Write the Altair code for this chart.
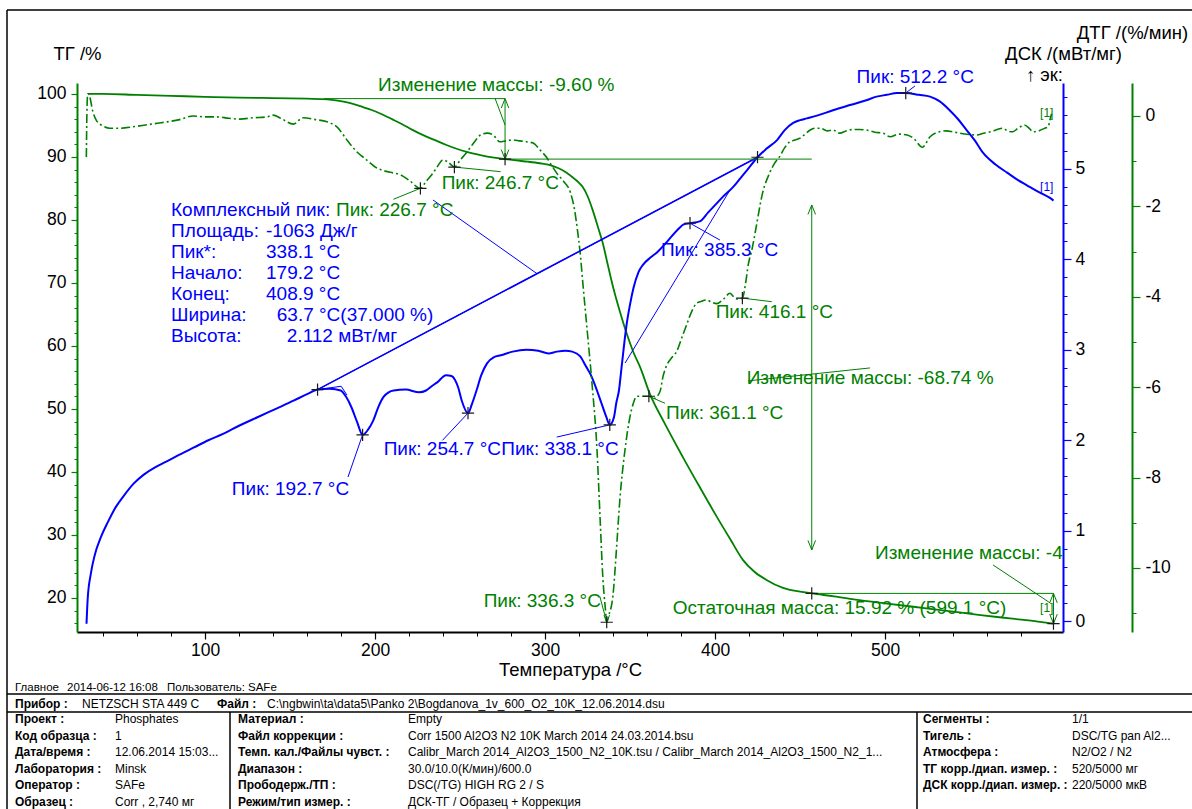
import altair as alt
import pandas as pd

# ---------------------------------------------------------------- curves
# TG, % of initial mass
T_TG = [31.2, 40, 60, 80, 100, 120, 140, 160, 172, 178, 183, 188, 193, 198, 203, 210,
        216, 222, 228, 235, 242, 248, 254, 262, 270, 276.5, 283, 290, 297, 303, 308,
        312.7, 317, 320, 322, 325, 328, 331, 334, 337, 340, 344, 348, 352, 356, 361.8,
        370, 381, 391, 401, 409, 416.5, 423, 430, 440, 450, 456.9, 470, 485, 500,
        516.7, 535, 555, 575, 590, 599.1]
TG = [100.0, 100.0, 99.85, 99.7, 99.55, 99.42, 99.35, 99.25, 99.15, 98.95, 98.7, 98.35,
      97.9, 97.45, 96.9, 96.0, 95.2, 94.3, 93.5, 92.7, 91.9, 91.3, 90.8, 90.3, 89.9, 89.66,
      89.45, 89.25, 89.0, 88.7, 88.2, 87.5, 86.6, 85.9, 85.3, 83.8, 81.6, 79.0, 76.3, 72.8,
      69.4, 65.5, 62.0, 59.0, 56.6, 52.3, 47.9, 42.4, 37.6, 32.9, 29.3, 26.0, 24.2, 22.9,
      21.6, 21.0, 20.72, 20.25, 19.65, 19.15, 18.6, 18.0, 17.3, 16.7, 16.25, 15.92]

# DSC, mW/mg (exo up)
T_DSC = [30.3, 31.0, 32.8, 35.0, 38.8, 43.0, 47.5, 52.0, 58.0, 64.0, 70.6, 76.9, 85.0,
         93.5, 102.0, 110.6, 120.0, 131.5, 142.0, 152.4, 160.0, 166.2, 173.5, 179.8,
         183.0, 186.0, 189.5, 192.7, 196.0, 199.0, 202.0, 205.0, 208.0, 211.0, 218.0,
         226.0, 230.0, 233.5, 236.6, 241.8, 245.0, 247.0, 249.0, 251.0, 254.7, 257.0,
         259.7, 262.5, 265.9, 270.0, 274.0, 281.0, 289.0, 296.0, 302.0, 307.0, 312.0,
         316.0, 320.6, 324.0, 327.0, 330.0, 333.0, 336.0, 338.1, 340.5, 342.0, 343.5,
         345.0, 348.0, 350.0, 352.0, 355.0, 357.6, 362.0, 366.0, 372.0, 377.6, 382.0,
         385.3, 391.0, 396.0, 401.0, 405.0, 410.6, 415.0, 419.0, 425.0, 430.0, 436.5,
         441.0, 446.0, 450.0, 454.0, 460.0, 469.4, 480.0, 489.0, 495.0, 501.0, 507.0,
         512.2, 520.0, 526.5, 532.0, 538.0, 543.0, 548.0, 553.0, 557.6, 565.0, 571.8,
         578.0, 583.5, 590.0, 597.0, 599.1]
DSC = [-0.03, 0.25, 0.52, 0.72, 0.93, 1.10, 1.26, 1.38, 1.52, 1.62, 1.70, 1.76, 1.84,
       1.92, 2.00, 2.07, 2.16, 2.26, 2.35, 2.44, 2.51, 2.56, 2.57, 2.55, 2.48, 2.37,
       2.20, 2.06, 2.12, 2.22, 2.37, 2.48, 2.53, 2.55, 2.56, 2.53, 2.55, 2.60, 2.64,
       2.72, 2.71, 2.67, 2.58, 2.44, 2.30, 2.40, 2.55, 2.72, 2.85, 2.92, 2.94, 2.98,
       3.00, 2.99, 2.96, 2.98, 2.99, 2.98, 2.93, 2.82, 2.72, 2.58, 2.42, 2.26, 2.17,
       2.25, 2.42, 2.55, 2.80, 3.28, 3.50, 3.68, 3.86, 3.94, 4.02, 4.08, 4.20, 4.32,
       4.39, 4.40, 4.42, 4.52, 4.62, 4.70, 4.80, 4.90, 4.99, 5.13, 5.22, 5.32, 5.43,
       5.51, 5.54, 5.56, 5.59, 5.65, 5.71, 5.76, 5.80, 5.82, 5.84, 5.84, 5.82, 5.80,
       5.75, 5.65, 5.55, 5.43, 5.31, 5.18, 5.05, 4.96, 4.88, 4.82, 4.75, 4.68, 4.65]

# DTG, %/min
T_DTG = [30.2, 30.5, 31.0, 32.0, 34, 36, 40, 44, 50, 57.6, 65, 72, 77.6, 85, 93, 100,
         107, 114, 120.6, 128, 136.5, 140, 145, 152, 157.6, 165, 171.8, 177.6, 183.5,
         189, 195, 201, 206, 210.6, 215, 220, 226.7, 230, 234, 237, 240, 243, 246.7,
         250, 254, 258, 262, 266, 269.5, 273.5, 277, 281, 285, 289, 293, 297, 301, 304,
         307, 311, 315, 317.5, 319, 320.6, 322.5, 324.7, 327.6, 330.6, 332.4, 334,
         335.5, 336.3, 337.5, 340, 342, 344, 347, 350, 352, 354, 357.6, 361.1, 364,
         367.6, 369.5, 371.8, 374.5, 377.6, 380.5, 383.5, 386, 389, 392, 395, 398, 401,
         405, 408.8, 411, 413, 416.1, 418, 419.5, 421.7, 424, 428, 432, 435, 438, 441,
         444, 447, 450, 453, 456, 459, 462, 466, 469.4, 473.5, 477, 481, 485, 489, 494,
         498.8, 503, 508, 513, 517, 522, 526.5, 532, 536, 540, 547, 554, 558, 562, 566,
         569.4, 572, 575, 578, 582, 585, 587, 591, 594, 596, 597, 598]
DTG = [-0.91, 0.0, 0.49, 0.45, 0.1, -0.09, -0.22, -0.27, -0.27, -0.24, -0.20, -0.16,
       -0.13, -0.08, 0.0, -0.02, -0.02, -0.05, -0.07, -0.04, -0.02, 0.02, -0.06, -0.18,
       -0.04, -0.08, -0.13, -0.24, -0.53, -0.78, -0.97, -1.15, -1.22, -1.26, -1.30,
       -1.42, -1.60, -1.45, -1.27, -1.10, -0.97, -1.02, -1.13, -0.98, -0.80, -0.60,
       -0.42, -0.38, -0.42, -0.57, -0.55, -0.53, -0.55, -0.57, -0.60, -0.75, -0.92,
       -1.10, -1.27, -1.45, -1.70, -2.1, -2.5, -3.0, -3.8, -4.7, -5.9, -7.4, -8.9,
       -10.2, -10.9, -11.2, -11.05, -10.6, -9.6, -8.5, -7.4, -6.65, -6.35, -6.2, -6.2,
       -6.2, -6.25, -6.1, -5.75, -5.5, -5.35, -5.2, -4.9, -4.6, -4.35, -4.15, -4.1,
       -4.07, -4.12, -4.15, -4.05, -3.92, -4.0, -4.05, -4.03, -3.7, -3.3, -2.96, -2.5,
       -1.7, -1.27, -1.05, -0.9, -0.7, -0.57, -0.53, -0.49, -0.40, -0.31, -0.27, -0.27,
       -0.33, -0.31, -0.38, -0.33, -0.30, -0.30, -0.31, -0.36, -0.38, -0.46, -0.40,
       -0.42, -0.50, -0.69, -0.46, -0.35, -0.33, -0.35, -0.40, -0.42, -0.38, -0.35,
       -0.30, -0.27, -0.33, -0.35, -0.28, -0.20, -0.28, -0.35, -0.32, -0.27, -0.24,
       -0.09, 0.05]

# ---------------------------------------------------------------- evaluation results
DSC_PEAK_T = [192.7, 254.7, 338.1, 385.3, 512.2]
DSC_PEAK_V = [2.06, 2.30, 2.17, 4.40, 5.84]
DSC_BASE_T = [166.2, 425.0]          # complex-peak baseline ends
DSC_BASE_V = [2.56, 5.13]
DTG_PEAK_T = [226.7, 246.7, 336.3, 361.1, 416.1]
DTG_PEAK_V = [-1.60, -1.13, -11.2, -6.2, -4.03]
MASS_STEPS = [-9.60, -68.74, -4.80]
STEP_T = [170.0, 276.5, 456.9, 599.1]
START_LEVEL = 99.26
RESIDUAL = 15.92
RESIDUAL_T = 599.1
COMPLEX_NAMES = ["Площадь:", "Пик*:", "Начало:", "Конец:", "Ширина:", "Высота:"]
COMPLEX_VALUES = ["-1063 Дж/г", "338.1 °C", "179.2 °C", "408.9 °C", "63.7 °C(37.000 %)",
                  "2.112 мВт/мг"]

# axis ticks
X_MAJOR = [100, 200, 300, 400, 500]
X_MINOR = [t for t in range(40, 601, 20) if t % 100]
TG_MAJOR = list(range(20, 101, 10))
TG_MINOR = [v for v in range(16, 101, 2) if v % 10]
DSC_MAJOR = [0, 1, 2, 3, 4, 5]
DSC_MINOR = [round(i * 0.2, 1) for i in range(1, 30) if i % 5]
DTG_MAJOR = [0, -2, -4, -6, -8, -10]
DTG_MINOR = [-1, -3, -5, -7, -9, -11]

# ---------------------------------------------------------------- layout / style
X_DOM = [24.7, 604.7]
TG_DOM = [14.59, 101.74]
DSC_DOM = [-0.121, 5.951]
DTG_DOM = [-11.416, 0.730]
W, H = 986, 549
LEFT, TOP = 77, 83
GREEN = "#008000"
BLUE = "#0000ff"
FONT = "Liberation Sans"
FS = 17.5      # tick labels
AFS = 19       # annotations
TFS = 18.5     # axis titles
TABLE_FS = 12


def sx():
    return alt.Scale(domain=X_DOM, nice=False, zero=False)


def sy(dom):
    return alt.Scale(domain=dom, nice=False, zero=False)


def xq(field="t", axis=None):
    return alt.X(f"{field}:Q", scale=sx(), axis=axis)


def yq(field, dom, axis=None):
    return alt.Y(f"{field}:Q", scale=sy(dom), axis=axis)


label_style = dict(labelFont=FONT, labelFontSize=FS, labelColor="black", grid=False,
                   titleFont=FONT, titleFontSize=TFS, titleFontWeight="normal",
                   titleColor="black")
minor_style = dict(labels=False, domain=False, grid=False, title=None, tickWidth=1)

x_major = alt.Axis(orient="bottom", values=X_MAJOR, labelExpr="datum.value + ''",
                   tickSize=7, tickWidth=1.2, tickColor="black", domainColor="black",
                   domainWidth=2, labelPadding=2, title="Температура /°C",
                   titleY=37, titleBaseline="middle", **label_style)
x_minor = alt.Axis(orient="bottom", values=X_MINOR, tickSize=4, tickColor="black",
                   **minor_style)
tg_major = alt.Axis(orient="left", values=TG_MAJOR, labelExpr="datum.value + ''",
                    tickSize=6, tickWidth=1.2, tickColor=GREEN, domainColor=GREEN,
                    domainWidth=2, labelPadding=5, title="ТГ /%", titleAngle=0,
                    titleX=0, titleY=-30, titleAlign="center", titleBaseline="middle",
                    **label_style)
tg_minor = alt.Axis(orient="left", values=TG_MINOR, tickSize=3, tickColor=GREEN,
                    **minor_style)
dsc_major = alt.Axis(orient="right", values=DSC_MAJOR, labelExpr="datum.value + ''",
                     tickSize=8, tickWidth=1.2, tickColor=BLUE, domainColor=BLUE,
                     domainWidth=2, labelPadding=4, title="ДСК /(мВт/мг)", titleAngle=0,
                     titleX=0, titleY=-30, titleAlign="center", titleBaseline="middle",
                     **label_style)
dsc_minor = alt.Axis(orient="right", values=DSC_MINOR, tickSize=4, tickColor=BLUE,
                     **minor_style)
dtg_major = alt.Axis(orient="right", offset=69, values=DTG_MAJOR,
                     labelExpr="datum.value + ''", tickSize=8, tickWidth=1.2,
                     tickColor=GREEN, domainColor=GREEN, domainWidth=2, labelPadding=5,
                     title="ДТГ /(%/мин)", titleAngle=0, titleX=0, titleY=-51,
                     titleAlign="center", titleBaseline="middle", **label_style)
dtg_minor = alt.Axis(orient="right", offset=69, values=DTG_MINOR, tickSize=4,
                     tickColor=GREEN, **minor_style)

tg_df = pd.DataFrame({"t": T_TG, "v": TG})
dsc_df = pd.DataFrame({"t": T_DSC, "v": DSC})
dtg_df = pd.DataFrame({"t": T_DTG, "v": DTG})

layers = []

# curves with their axes
layers.append(alt.Chart(tg_df).mark_line(color=GREEN, strokeWidth=1.8, interpolate="monotone")
              .encode(x=xq(axis=x_major), y=yq("v", TG_DOM, tg_major)))
layers.append(alt.Chart(tg_df).mark_line(opacity=0)
              .encode(x=xq(axis=x_minor), y=yq("v", TG_DOM, tg_minor)))
layers.append(alt.Chart(dsc_df).mark_line(color=BLUE, strokeWidth=2, interpolate="monotone")
              .encode(x=xq(), y=yq("v", DSC_DOM, dsc_major)))
layers.append(alt.Chart(dsc_df).mark_line(opacity=0)
              .encode(x=xq(), y=yq("v", DSC_DOM, dsc_minor)))
layers.append(alt.Chart(dtg_df).mark_line(color=GREEN, strokeWidth=1.6, strokeDash=[9, 3, 2, 3],
                                          interpolate="monotone")
              .encode(x=xq(), y=yq("v", DTG_DOM, dtg_major)))
layers.append(alt.Chart(dtg_df).mark_line(opacity=0)
              .encode(x=xq(), y=yq("v", DTG_DOM, dtg_minor)))


def segs(rows):
    return pd.DataFrame(rows, columns=["t1", "v1", "t2", "v2"])


def rule_layer(df, dom, color, width=1.0):
    return alt.Chart(df).mark_rule(color=color, strokeWidth=width).encode(
        x=xq("t1"), x2="t2:Q", y=yq("v1", dom), y2="v2:Q")


# DSC evaluation lines: label leaders, complex-peak baseline and tangents
dsc_anchor = [(184.1, 1.593), (239.7, 1.999), (306.9, 2.035), (402.9, 4.214), (517.6, 5.918)]
dsc_lines = [(a[0], a[1], t, v) for a, t, v in zip(dsc_anchor, DSC_PEAK_T, DSC_PEAK_V)]
dsc_lines += [(DSC_BASE_T[0], DSC_BASE_V[0], DSC_BASE_T[1], DSC_BASE_V[1]),
              (234.1, 4.657, 295.3, 3.842),
              (347.1, 2.854, 408.8, 4.767),
              (DSC_BASE_T[0], DSC_BASE_V[0], 180.1, 2.597),
              (180.1, 2.597, 183.5, 2.50)]
layers.append(rule_layer(segs(dsc_lines), DSC_DOM, BLUE))
layers.append(rule_layer(segs(dsc_lines[5:6]), DSC_DOM, BLUE, 1.6))

# DTG label leaders
dtg_anchor = [(210.8, -1.843), (273.9, -1.232), (332.3, -10.635), (370.6, -6.356),
              (433.4, -4.108)]
dtg_lines = [(a[0], a[1], t, v) for a, t, v in zip(dtg_anchor, DTG_PEAK_T, DTG_PEAK_V)]
layers.append(rule_layer(segs(dtg_lines), DTG_DOM, GREEN))

# TG mass-change levels and arrows
levels = [START_LEVEL, START_LEVEL + MASS_STEPS[0], RESIDUAL - MASS_STEPS[2], RESIDUAL]
tg_lines = [(STEP_T[0], levels[0], STEP_T[1], levels[0]),
            (STEP_T[1], levels[1], STEP_T[2], levels[1]),
            (STEP_T[2], levels[2], STEP_T[3], levels[2]),
            (STEP_T[1], levels[0], STEP_T[1], levels[1]),
            (STEP_T[2], 82.38, STEP_T[2], 27.62),
            (STEP_T[3], levels[2], STEP_T[3], levels[3]),
            (270.6, 99.32, 276.5, 95.08),
            (419.4, 54.45, 491.2, 56.51),
            (563.5, 25.24, 597.1, 19.21)]
layers.append(rule_layer(segs(tg_lines), TG_DOM, GREEN))

UP = "M-0.4,1L0,0L0.4,1"
DOWN = "M-0.4,-1L0,0L0.4,-1"
heads_up = pd.DataFrame({"t": [STEP_T[1], STEP_T[2], STEP_T[3]],
                         "v": [levels[0], 82.38, levels[2]]})
heads_dn = pd.DataFrame({"t": [STEP_T[1], STEP_T[2], STEP_T[3]],
                         "v": [levels[1], 27.62, levels[3]]})
for df, shp in ((heads_up, UP), (heads_dn, DOWN)):
    layers.append(alt.Chart(df).mark_point(shape=shp, size=360, filled=False, color=GREEN,
                                           strokeWidth=1, opacity=1)
                  .encode(x=xq(), y=yq("v", TG_DOM)))
layers.append(alt.Chart(pd.DataFrame({"t": [DTG_PEAK_T[2]], "v": [DTG_PEAK_V[2]]}))
              .mark_point(shape=DOWN, size=200, filled=False, color=GREEN, strokeWidth=1,
                          opacity=1)
              .encode(x=xq(), y=yq("v", DTG_DOM)))

# evaluation cross markers
CROSS = "M-1,0L1,0M0,-1L0,1"


def cross_layer(ts, vs, dom):
    return alt.Chart(pd.DataFrame({"t": ts, "v": vs})).mark_point(
        shape=CROSS, size=150, filled=False, color="#1a1a1a", strokeWidth=1.2, opacity=1
    ).encode(x=xq(), y=yq("v", dom))


layers.append(cross_layer(DSC_PEAK_T + DSC_BASE_T, DSC_PEAK_V + DSC_BASE_V, DSC_DOM))
layers.append(cross_layer(DTG_PEAK_T, DTG_PEAK_V, DTG_DOM))
layers.append(cross_layer([STEP_T[1], STEP_T[2], RESIDUAL_T], [levels[1], levels[2], RESIDUAL],
                          TG_DOM))

# text annotations, positioned in TG units
rows_y = [81.59, 78.26, 74.92, 71.59, 68.26, 64.92, 61.59]
ann = [(80.0, rows_y[0], "Комплексный пик:", BLUE),
       (177.1, rows_y[0], f"Пик: {DTG_PEAK_T[0]:.1f} °C", GREEN)]
val_t = [135.9, 135.9, 135.9, 135.9, 142.2, 148.1]
for name, val, y, tv in zip(COMPLEX_NAMES, COMPLEX_VALUES, rows_y[1:], val_t):
    ann.append((80.0, y, name, BLUE))
    ann.append((tv, y, val, BLUE))

dsc_label_pos = [(115.8, 37.34), (205.1, 43.70), (274.3, 43.70), (368.2, 75.24), (483.3, 102.75)]
for (t, y), pk in zip(dsc_label_pos, DSC_PEAK_T):
    ann.append((t, y, f"Пик: {pk:.1f} °C", BLUE))
dtg_label_pos = [(239.2, 85.83), (263.9, 19.54), (371.2, 49.32), (400.4, 65.45)]
for (t, y), pk in zip(dtg_label_pos, DTG_PEAK_T[1:]):
    ann.append((t, y, f"Пик: {pk:.1f} °C", GREEN))
ann.append((201.8, 101.43, f"Изменение массы: {MASS_STEPS[0]:.2f} %", GREEN))
ann.append((418.6, 54.88, f"Изменение массы: {MASS_STEPS[1]:.2f} %", GREEN))
ann.append((375.1, 18.37, f"Остаточная масса: {RESIDUAL:.2f} % ({RESIDUAL_T:.1f} °C)", GREEN))
ann_df = pd.DataFrame(ann, columns=["t", "v", "txt", "col"])
layers.append(alt.Chart(ann_df).mark_text(align="left", baseline="middle", font=FONT,
                                          fontSize=AFS)
              .encode(x=xq(), y=yq("v", TG_DOM), text="txt:N",
                      color=alt.Color("col:N", scale=None)))
clip_df = pd.DataFrame([(494.1, 27.10, f"Изменение массы: {MASS_STEPS[2]:.2f} %", GREEN)],
                       columns=["t", "v", "txt", "col"])
layers.append(alt.Chart(clip_df).mark_text(align="left", baseline="middle", font=FONT,
                                           fontSize=AFS, clip=True)
              .encode(x=xq(), y=yq("v", TG_DOM), text="txt:N",
                      color=alt.Color("col:N", scale=None)))
seg_df = pd.DataFrame([(591.2, 96.94, "[1]", GREEN), (591.2, 85.29, "[1]", BLUE),
                       (591.2, 18.42, "[1]", GREEN)], columns=["t", "v", "txt", "col"])
layers.append(alt.Chart(seg_df).mark_text(align="left", baseline="middle", font=FONT,
                                          fontSize=12)
              .encode(x=xq(), y=yq("v", TG_DOM), text="txt:N",
                      color=alt.Color("col:N", scale=None)))

# exo marker beside the DSC axis title
layers.append(alt.Chart(pd.DataFrame({"txt": ["↑ эк:"]})).mark_text(
    align="right", baseline="middle", font=FONT, fontSize=TFS, color="black")
    .encode(x=alt.value(W), y=alt.value(75 - TOP), text="txt:N"))

# ---------------------------------------------------------------- report block
header = [(15, 688, "Главное"), (67, 688, "2014-06-12 16:08"), (167, 688, "Пользователь: SAFe")]
bold_cells = [(15, 703.5, "Прибор :"), (217, 703.5, "Файл :")]
plain_cells = [(82, 703.5, "NETZSCH STA 449 C"),
               (267, 703.5, "C:\\ngbwin\\ta\\data5\\Panko 2\\Bogdanova_1v_600_O2_10K_12.06.2014.dsu")]
row_y = [719, 735.5, 752, 768.5, 785, 801.5]
col1_names = ["Проект :", "Код образца :", "Дата/время :", "Лаборатория :", "Оператор :",
              "Образец :"]
col1_vals = ["Phosphates", "1", "12.06.2014 15:03...", "Minsk", "SAFe", "Corr  , 2,740 мг"]
col2_names = ["Материал :", "Файл коррекции :", "Темп. кал./Файлы чувст. :", "Диапазон :",
              "Прободерж./ТП :", "Режим/тип измер. :"]
col2_vals = ["Empty", "Corr 1500 Al2O3  N2 10K March 2014 24.03.2014.bsu",
             "Calibr_March 2014_Al2O3_1500_N2_10K.tsu / Calibr_March 2014_Al2O3_1500_N2_1...",
             "30.0/10.0(К/мин)/600.0", "DSC(/TG) HIGH RG 2 / S", "ДСК-ТГ / Образец + Коррекция"]
col3_names = ["Сегменты :", "Тигель :", "Атмосфера :", "ТГ корр./диап. измер. :",
              "ДСК корр./диап. измер. :"]
col3_vals = ["1/1", "DSC/TG pan Al2...", "N2/O2 / N2", "520/5000 мг", "220/5000 мкВ"]
for y, a, b, c, d in zip(row_y, col1_names, col1_vals, col2_names, col2_vals):
    bold_cells += [(15, y, a), (238, y, c)]
    plain_cells += [(115, y, b), (408, y, d)]
for y, a, b in zip(row_y, col3_names, col3_vals):
    bold_cells.append((923, y, a))
    plain_cells.append((1072, y, b))


def px_text(cells, size, weight):
    df = pd.DataFrame(cells, columns=["px", "py", "txt"])
    df["px"] = df["px"] - LEFT
    df["py"] = df["py"] - TOP
    return alt.Chart(df).mark_text(align="left", baseline="middle", font=FONT, fontSize=size,
                                   fontWeight=weight, color="black").encode(
        x=alt.X("px:Q", scale=None, axis=None), y=alt.Y("py:Q", scale=None, axis=None),
        text="txt:N")


layers.append(px_text(header, 11.5, "normal"))
layers.append(px_text(bold_cells, TABLE_FS, "bold"))
layers.append(px_text(plain_cells, TABLE_FS, "normal"))

frame = pd.DataFrame([(7, 10, 1192, 10), (7, 10, 7, 809), (7, 694, 1192, 694),
                      (7, 712, 1192, 712), (230, 712, 230, 809), (917, 712, 917, 809)],
                     columns=["x1", "y1", "x2", "y2"])
frame[["x1", "x2"]] -= LEFT
frame[["y1", "y2"]] -= TOP
layers.append(alt.Chart(frame).mark_rule(color="black", strokeWidth=1.5).encode(
    x=alt.X("x1:Q", scale=None, axis=None), x2="x2:Q",
    y=alt.Y("y1:Q", scale=None, axis=None), y2="y2:Q"))

chart = alt.layer(*layers).resolve_scale(x="independent", y="independent").resolve_axis(
    x="independent", y="independent").properties(
    width=W, height=H,
    padding={"left": LEFT, "top": TOP, "right": 1192 - LEFT - W, "bottom": 809 - TOP - H},
    autosize=alt.AutoSizeParams(type="none"),
    background="white",
).configure_view(stroke=None)

chart.save("out.html", embed_options={"renderer": "svg", "actions": False})
